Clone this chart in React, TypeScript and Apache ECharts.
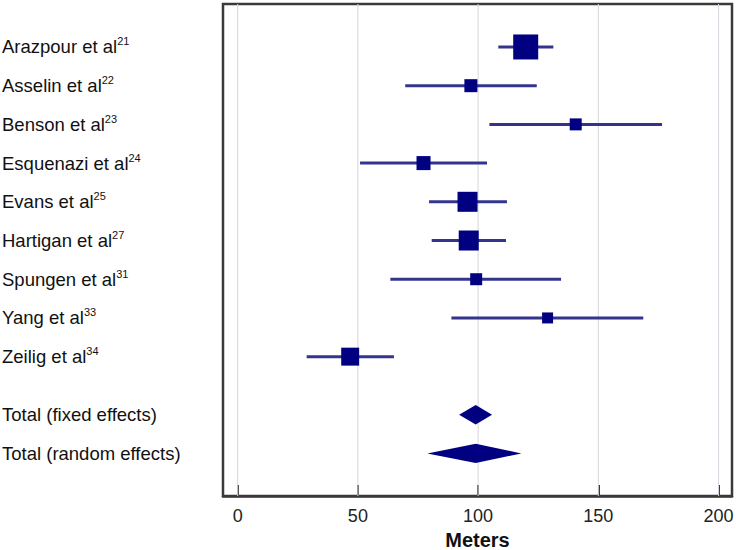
import React, { useEffect, useRef } from "react";
import * as echarts from "echarts";

const studies = [
  "Arazpour et al",
  "Asselin et al",
  "Benson et al",
  "Esquenazi et al",
  "Evans et al",
  "Hartigan et al",
  "Spungen et al",
  "Yang et al",
  "Zeilig et al",
];
const refs = ["21", "22", "23", "24", "25", "27", "31", "33", "34"];
const estimates = [119.8, 97.0, 140.6, 77.3, 95.6, 96.1, 99.2, 128.9, 46.8];
const lower = [108.4, 69.7, 104.7, 50.9, 79.6, 80.7, 63.5, 88.9, 28.7];
const upper = [131.3, 124.4, 176.5, 103.7, 112.0, 111.6, 134.5, 168.7, 65.0];
const weights = [24.8, 6.7, 5.7, 7.8, 15.9, 15.9, 5.7, 4.8, 12.8];

const totalLabels = ["Total (fixed effects)", "Total (random effects)"];
const totalEst = [99.0, 99.0];
const totalLower = [92.1, 78.9];
const totalUpper = [105.8, 118.0];

const xTicks = [0, 50, 100, 150, 200];

const FONT = "'Liberation Sans', Arial, sans-serif";

export default function App() {
  const ref = useRef<HTMLDivElement>(null);

  useEffect(() => {
    if (!ref.current) return;
    const chart = echarts.init(ref.current, null, { renderer: "svg" });

    const studyRows = studies.map((_, i) => i);
    const totalRows = [studies.length + 0.5, studies.length + 1.5];
    const labelValues = [...studyRows, ...totalRows];
    const labelFor = (v: number) => {
      const si = studyRows.indexOf(v);
      if (si >= 0) return `{a|${studies[si]}}{b|${refs[si]}}`;
      const ti = totalRows.findIndex((r) => Math.abs(r - v) < 1e-6);
      if (ti >= 0) return `{a|${totalLabels[ti]}}`;
      return "";
    };

    const ciData = studies.map((_, i) => [lower[i], upper[i], i]);
    const sqData = studies.map((_, i) => [estimates[i], i, weights[i]]);
    const dmData = totalLabels.map((_, i) => [totalLower[i], totalEst[i], totalUpper[i], totalRows[i]]);

    chart.setOption({
      animation: false,
      backgroundColor: "#ffffff",
      grid: {
        left: 223,
        right: 4,
        top: 4,
        bottom: 54,
        outerBoundsMode: "none",
        containLabel: false,
        show: true,
        borderColor: "#3a3a3a",
        borderWidth: 2.5,
        backgroundColor: "transparent",
      },
      xAxis: {
        type: "value",
        min: -6.1,
        max: 205.6,
        axisLine: { show: true, onZero: false, lineStyle: { color: "#3a3a3a", width: 2.5 } },
        axisTick: {
          show: true,
          inside: true,
          length: 11,
          customValues: xTicks,
          lineStyle: { color: "#3a3a3a", width: 2 },
        },
        axisLabel: {
          customValues: xTicks,
          fontSize: 18,
          color: "#222",
          fontFamily: FONT,
          margin: 11,
        },
        splitLine: { show: false },
        name: "Meters",
        nameLocation: "middle",
        nameGap: 32,
        nameTextStyle: {
          fontSize: 20,
          lineHeight: 20,
          fontWeight: "bold",
          color: "#111",
          fontFamily: FONT,
        },
      },
      yAxis: {
        type: "value",
        inverse: true,
        min: -1.11,
        max: 11.6,
        axisLine: { show: false, onZero: false },
        axisTick: { show: false },
        splitLine: { show: false },
        axisLabel: {
          customValues: labelValues,
          formatter: (v: number) => labelFor(v),
          align: "left",
          margin: 221,
          rich: {
            a: { fontSize: 18.5, color: "#111", fontFamily: FONT, lineHeight: 22 },
            b: { fontSize: 11, color: "#111", fontFamily: FONT, lineHeight: 16, verticalAlign: "top" },
          },
        },
      },
      series: [
        {
          type: "custom",
          name: "grid",
          silent: true,
          z: 1,
          data: xTicks.map((t) => [t]),
          renderItem: (params: any, api: any) => {
            const x = api.coord([api.value(0), 0])[0];
            const cs = params.coordSys;
            return {
              type: "line",
              shape: { x1: x, y1: cs.y, x2: x, y2: cs.y + cs.height },
              style: { stroke: "#d6d6de", lineWidth: 1 },
            };
          },
        },
        {
          type: "custom",
          name: "ci",
          z: 2,
          data: ciData,
          renderItem: (params: any, api: any) => {
            const p1 = api.coord([api.value(0), api.value(2)]);
            const p2 = api.coord([api.value(1), api.value(2)]);
            return {
              type: "line",
              shape: { x1: p1[0], y1: p1[1], x2: p2[0], y2: p2[1] },
              style: { stroke: "#34348f", lineWidth: 3 },
            };
          },
        },
        {
          type: "scatter",
          name: "est",
          z: 3,
          symbol: "rect",
          symbolSize: (val: number[]) => 5.02 * Math.sqrt(val[2]),
          itemStyle: { color: "#000080", opacity: 1 },
          data: sqData,
        },
        {
          type: "custom",
          name: "pooled",
          z: 3,
          data: dmData,
          renderItem: (params: any, api: any) => {
            const y = api.value(3);
            const l = api.coord([api.value(0), y]);
            const c = api.coord([api.value(1), y]);
            const r = api.coord([api.value(2), y]);
            const h = 9.7;
            return {
              type: "polygon",
              shape: {
                points: [
                  [l[0], l[1]],
                  [c[0], c[1] - h],
                  [r[0], r[1]],
                  [c[0], c[1] + h],
                ],
              },
              style: { fill: "#000080" },
            };
          },
        },
      ],
    });

    return () => chart.dispose();
  }, []);

  return (
    <div
      ref={ref}
      style={{ position: "fixed", left: 0, top: 0, width: 736, height: 550, background: "#fff" }}
    />
  );
}
